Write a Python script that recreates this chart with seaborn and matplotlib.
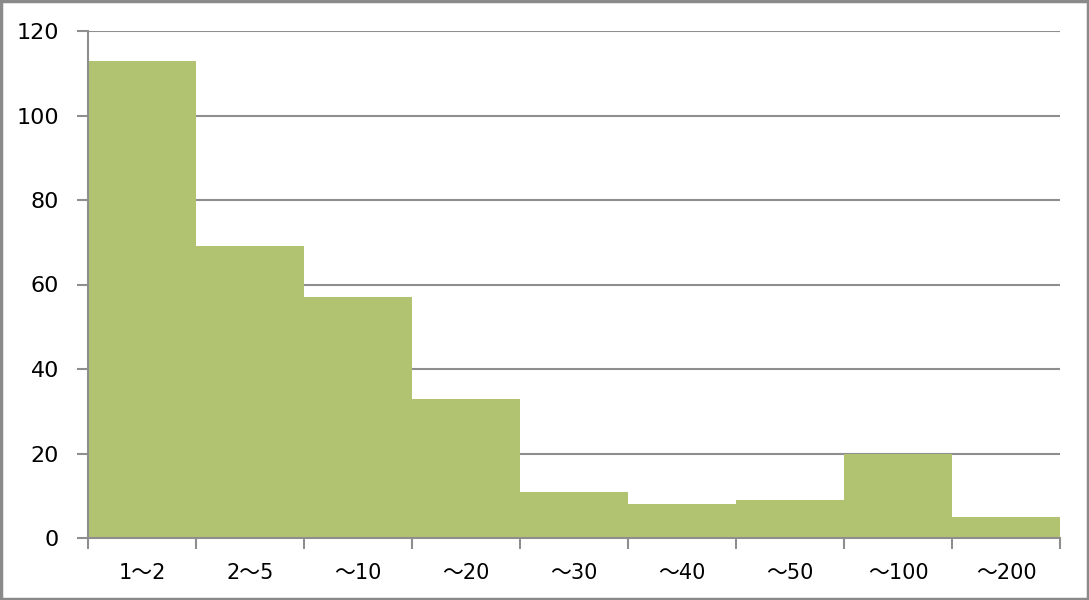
import numpy as np
import pandas as pd
import matplotlib
matplotlib.use("Agg")
import matplotlib.pyplot as plt
import seaborn as sns
from matplotlib.patches import Rectangle

# data
categories = ["1～2", "2～5", "～10", "～20", "～30", "～40", "～50", "～100", "～200"]
counts = [113, 69, 57, 33, 11, 8, 9, 20, 5]
y_ticks = [0, 20, 40, 60, 80, 100, 120]

df = pd.DataFrame({"range": categories, "count": counts})

sns.set_theme(style="white")
plt.rcParams["font.family"] = ["DejaVu Sans", "Noto Sans CJK JP"]

grid_col = "#8e8e8e"

fig = plt.figure(figsize=(10.89, 6), dpi=100)
ax = fig.add_axes([88 / 1089, 62 / 600, 972 / 1089, 507 / 600])

sns.barplot(data=df, x="range", y="count", color="#b1c371", width=1.0,
            saturation=1, edgecolor="none", linewidth=0, ax=ax, zorder=2)

ax.set_xlim(-0.5, len(categories) - 0.5)
ax.set_ylim(0, 120)
ax.set_yticks(y_ticks)
ax.set_yticklabels([str(v) for v in y_ticks], fontsize=16, color="black")
ax.yaxis.grid(True, color=grid_col, linewidth=1.5, zorder=0)
ax.set_axisbelow(True)
ax.tick_params(axis="y", length=8, width=1.5, color=grid_col, pad=13, left=True)

ax.set_xticks(range(len(categories)))
ax.set_xticklabels(categories, fontsize=15, color="black")
ax.set_xticks(np.arange(-0.5, len(categories), 1.0), minor=True)
ax.tick_params(axis="x", which="major", length=0, pad=18)
ax.tick_params(axis="x", which="minor", length=8, width=1.5, color=grid_col, bottom=True)

ax.set_xlabel("")
ax.set_ylabel("")

for side in ["top", "right"]:
    ax.spines[side].set_visible(False)
for side in ["left", "bottom"]:
    ax.spines[side].set_color(grid_col)
    ax.spines[side].set_linewidth(1.5)

# outer frame around the whole picture
fig.patches.append(Rectangle((0.001, 0.002), 0.998, 0.996, transform=fig.transFigure,
                             fill=False, edgecolor="#8a8a8a", linewidth=2.5))

fig.savefig("out.png", dpi=100)
